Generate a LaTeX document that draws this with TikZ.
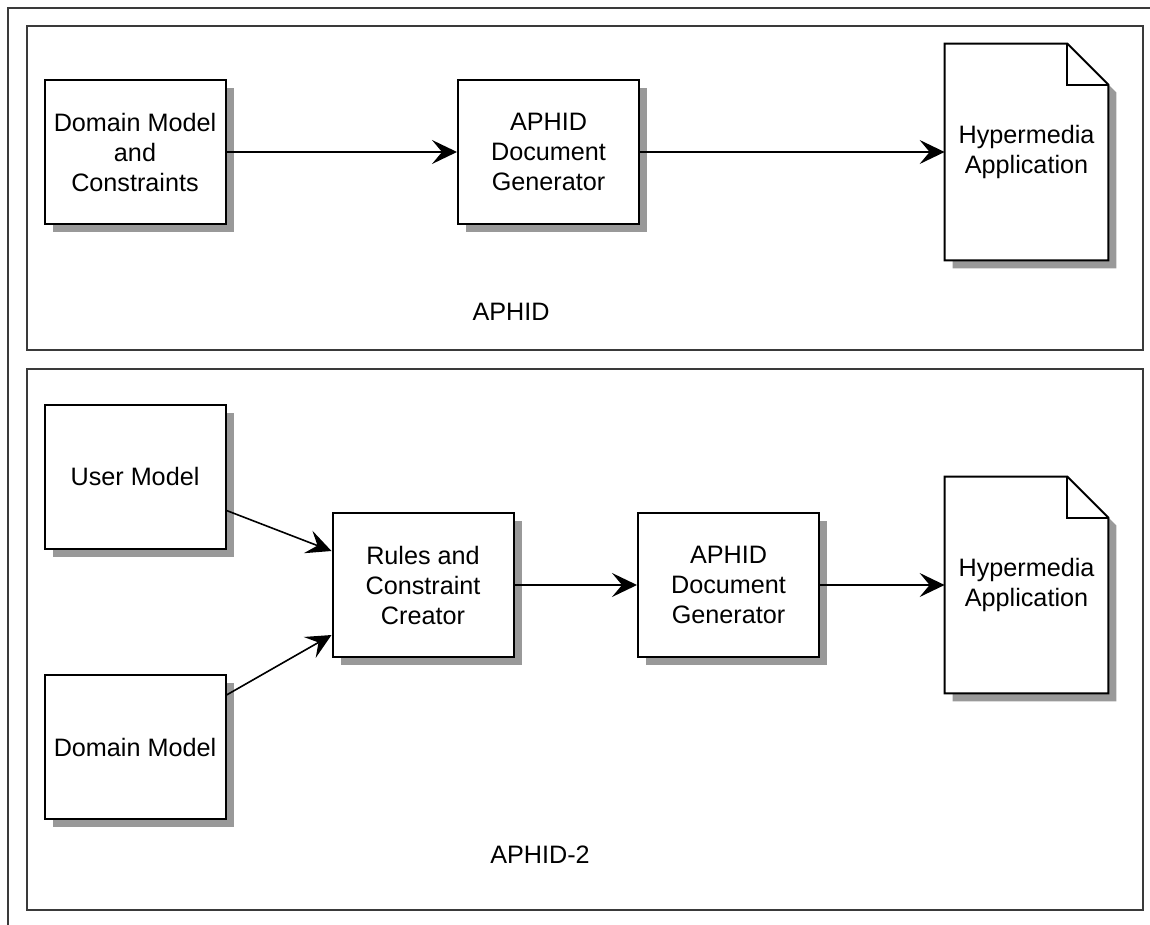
\documentclass[tikz,border=0pt]{standalone}
\usepackage{fontspec}
\setmainfont{Liberation Sans}
\usetikzlibrary{arrows.meta,shadows,backgrounds}
\definecolor{shadegray}{HTML}{999999}
\definecolor{framegray}{HTML}{3A3A3A}
% page with folded corner, drawn round a node
\newcommand\paperoutline[1]{%
  \path[draw,fill=white,line width=1pt,
    drop shadow={shadow xshift=4pt,shadow yshift=-4pt,fill=shadegray,opacity=1}]
    (#1.south west) -- (#1.north west) -- ([xshift=-20.5pt]#1.north east)
    -- ([yshift=-20.5pt]#1.north east) -- (#1.south east) -- cycle;
  \draw[line width=1pt] ([xshift=-20.5pt]#1.north east) |- ([yshift=-20.5pt]#1.north east);}

\begin{document}
\begin{tikzpicture}[
    x=0.5pt, y=-0.5pt,
    every node/.style={font=\fontsize{12.6}{15}\selectfont},
    box/.style={draw,fill=white,line width=1pt,align=center,inner sep=0pt,
      minimum width=90.5pt,minimum height=72pt,
      drop shadow={shadow xshift=4pt,shadow yshift=-4pt,fill=shadegray,opacity=1}},
    paper/.style={align=center,inner sep=0pt,minimum width=81.5pt,minimum height=108pt},
    panel/.style={draw=framegray,line width=1.2pt},
    flow/.style={line width=0.8pt,-{Stealth[length=12.5pt,width=12pt,inset=5pt]}}
  ]
  \useasboundingbox (0,0) rectangle (1150,925);
  \draw[panel] (1150,8) -- (8,8) -- (8,925);
  \draw[panel] (27,26) rectangle (1143,350);
  \draw[panel] (27,369) rectangle (1143,910);

  % APHID
  \node[box] (dmc) at (135,152) {Domain Model\\and\\Constraints};
  \node[box] (gen1) at (548.5,152) {APHID\\Document\\Generator};
  \node[paper] (hyp1) at (1026.5,152) {Hypermedia\\Application};
  \node (aphid) at (511,312) {APHID};
  \draw[flow] (dmc) -- (gen1);
  \draw[flow] (gen1) -- (hyp1);

  % APHID-2
  \node[box] (user) at (135,476.5) {User Model};
  \node[box] (dom) at (135,747) {Domain Model};
  \node[box] (rules) at (423,585) {Rules and\\Constraint\\Creator};
  \node[box] (gen2) at (728.5,585) {APHID\\Document\\Generator};
  \node[paper] (hyp2) at (1026.5,585) {Hypermedia\\Application};
  \node (aphid2) at (540,855) {APHID-2};
  \draw[flow] ([yshift=-17pt]user.east) -- ([yshift=17pt]rules.west);
  \draw[flow] ([yshift=26pt]dom.east) -- ([yshift=-25pt]rules.west);
  \draw[flow] (rules) -- (gen2);
  \draw[flow] (gen2) -- (hyp2);

  \begin{scope}[on background layer]
    \paperoutline{hyp1}
    \paperoutline{hyp2}
  \end{scope}
\end{tikzpicture}
\end{document}
